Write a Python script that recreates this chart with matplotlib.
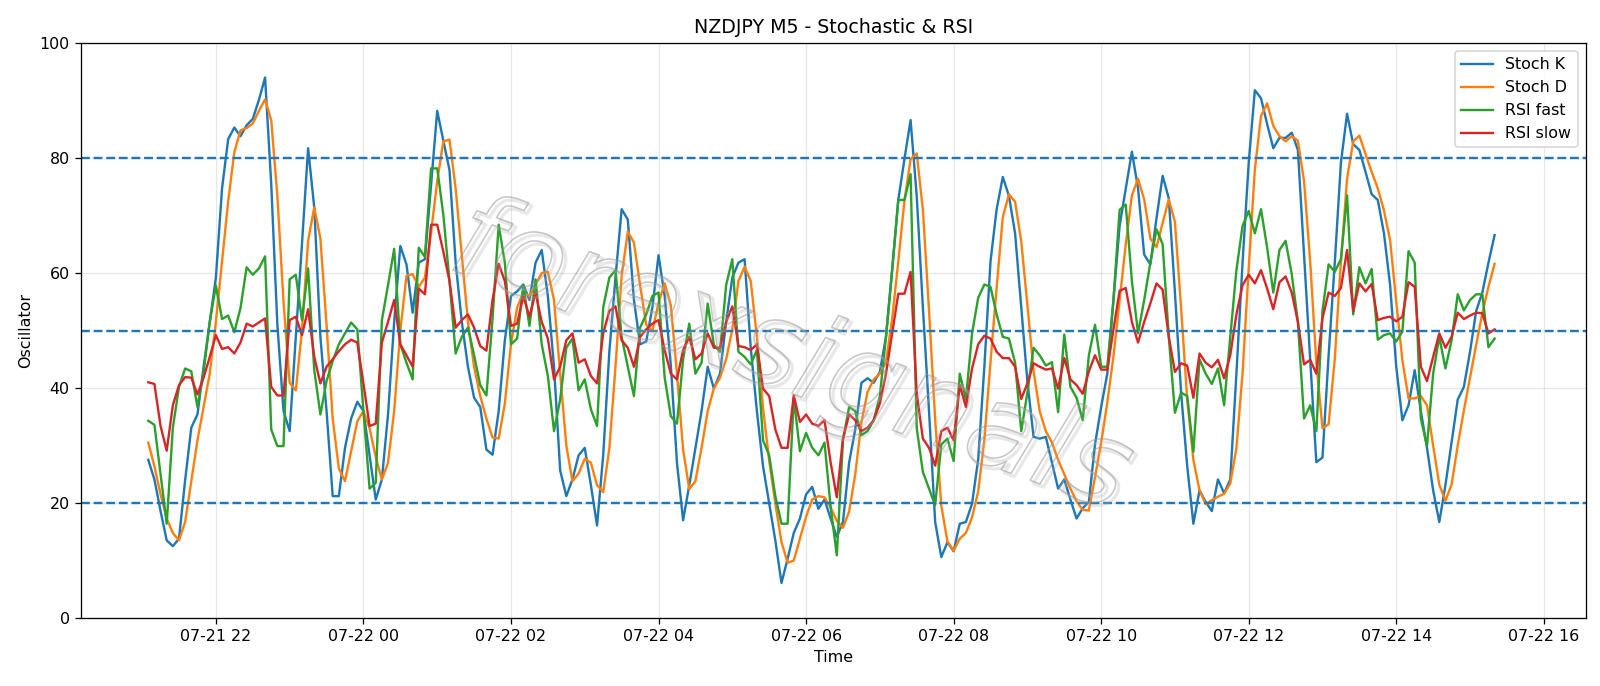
import matplotlib
matplotlib.use('Agg')
import matplotlib.pyplot as plt
import matplotlib.dates as mdates
import matplotlib.patheffects as pe
import pandas as pd

start_time = '2025-07-21 21:05'
n_points = 220

stoch_k = [27.5, 24.1, 18.6, 13.5, 12.5, 13.8, 24, 33.1, 35.4, 43.7,
           51.5, 59.2, 74.7, 83.3, 85.3, 83.8, 85.7, 86.8, 90.1, 94.0,
           75.5, 51, 36, 32.5, 48.9, 65, 81.7, 71.4, 48.9, 36,
           21.2, 21.2, 29.6, 34.7, 37.6, 36, 28.3, 20.6, 24.1, 35.4,
           51.5, 64.7, 61.5, 53.1, 61.8, 62.4, 75.3, 88.2, 83, 77.9,
           61.8, 51.5, 43.7, 38.3, 36.7, 29.3, 28.4, 36, 48.3, 56,
           56.8, 58, 55.3, 61.8, 64, 56, 43.7, 25.7, 21.2, 24.1,
           28.3, 29.6, 23.1, 16.1, 28.3, 46.3, 59.2, 71.1, 69.3, 55.3,
           47.6, 48.1, 54, 63.1, 56, 44, 27, 17, 23.1, 29.6,
           36, 43.7, 39.9, 42.5, 51.5, 59.2, 61.8, 62.4, 47, 36,
           26.4, 19.9, 13.5, 6.1, 10.3, 14.8, 17.3, 21.5, 22.8, 19,
           20.6, 17.3, 14.1, 16.7, 27, 32.8, 40.9, 41.7, 40.9, 42.8,
           48.9, 60.5, 72.7, 79.8, 86.6, 73.4, 54, 36, 16.7, 10.6,
           13.2, 11.6, 16.4, 16.7, 19.9, 27.6, 43.7, 62, 71.1, 76.7,
           73.4, 66.9, 54, 41.2, 31.5, 31.2, 31.5, 27, 22.5, 24.1,
           20.6, 17.3, 19.1, 20.2, 30.2, 36.7, 42.5, 55.3, 68.2, 74.7,
           81.1, 74.7, 63.2, 61.5, 69.5, 76.9, 73, 56.6, 39.2, 26.4,
           16.4, 22.2, 20.2, 18.6, 24.1, 21.7, 24.1, 42.5, 61.8, 79.2,
           91.8, 90.4, 85.9, 81.7, 83.5, 83.5, 84.4, 81.4, 63.1, 45,
           27.1, 27.9, 45.7, 61.8, 79.2, 87.7, 82.4, 81.4, 77.6, 73.7,
           72.7, 66.9, 57.9, 43.7, 34.4, 37, 43.1, 36, 29.6, 22.2,
           16.7, 23.1, 30.5, 38, 40.2, 46.3, 53.4, 56.6, 61.8, 66.6]

stoch_d = [30.5, 26.4, 21.5, 17.3, 14.8, 13.5, 16.7, 23.8, 30.9, 36.7,
           42.5, 51.5, 62, 72.5, 81, 84.8, 85.2, 86, 88.2, 90.2,
           86.6, 73.4, 55, 40.9, 39.6, 50, 65.6, 71.4, 66, 51,
           34.7, 26, 23.8, 29, 34.2, 36, 33, 28, 24.1, 27,
           36, 50, 59.5, 59.8, 57.6, 59.2, 67, 76, 82.9, 83.2,
           74.7, 63, 51.5, 43.7, 38.6, 34.7, 31.4, 31.2, 37.3, 47.6,
           54, 56.6, 56, 58, 60, 60.2, 55.3, 42.5, 30, 23.8,
           25.1, 27.7, 27, 23.1, 21.9, 29.5, 43.7, 59.5, 67.2, 65.3,
           57.9, 51, 49.9, 54.8, 58.2, 54.4, 42.5, 29.3, 22.4, 23.8,
           29.6, 36, 39.9, 41.8, 45, 50.2, 58.6, 61.1, 58.6, 48.9,
           36.5, 27.4, 19.9, 13.2, 9.6, 10, 13.8, 17.6, 20.6, 21.2,
           21, 19.2, 16.9, 15.7, 18.5, 25, 34, 39.3, 41.5, 42.5,
           44.5, 52, 62, 72.5, 79.8, 80.8, 71, 53.5, 34.5, 19.5,
           13.3, 11.7, 13.8, 14.8, 17.5, 22, 31, 44.5, 57.5, 69.7,
           73.7, 72.4, 65.5, 54.5, 43, 36, 32.5, 30.5, 27.5, 25,
           22.5, 20.3, 18.8, 18.7, 24.5, 30.5, 37.5, 45.5, 55.3, 65,
           73.5, 76.4, 72.8, 66, 64.5, 68.7, 72.8, 68.9, 54, 38,
           27.5, 22.2, 19.8, 20.5, 21.1, 21.6, 23.4, 29.5, 42.6, 60.8,
           78, 87.3, 89.5, 85.6, 83.8, 82.9, 83.8, 83, 76, 62,
           44.4, 33, 33.7, 45, 62, 76.4, 82.9, 83.9, 80.7, 77.6,
           74.7, 70.9, 65.7, 55, 44.8, 38.2, 38.2, 38.6, 37, 30,
           23.2, 20.4, 23.2, 30, 36.1, 41.8, 47.5, 53, 57.6, 61.6]

rsi_fast = [34.3, 33.6, 25, 16.4, 33.1, 40.2, 43.4, 42.9, 36.7, 42.8,
            51.5, 57.8, 52, 52.6, 49.7, 53.9, 61, 59.7, 60.8, 62.9,
            32.8, 29.9, 29.9, 58.9, 59.7, 51.8, 60.8, 43.1, 35.4, 41.2,
            44.7, 47.6, 49.5, 51.4, 50.2, 36, 22.5, 23.5, 51.8, 57.9,
            64.2, 47.6, 44.4, 41.5, 64.4, 62.8, 78.2, 78.2, 70.1, 58.6,
            46, 48.9, 50.5, 45.7, 40.5, 38.7, 52, 68.4, 61.8, 47.6,
            48.6, 57.9, 50.8, 58.9, 47.6, 42.1, 32.5, 38, 47, 48.6,
            39.6, 41.5, 36.3, 33.4, 54, 59.2, 60.5, 48.9, 43.7, 38.6,
            50.5, 52.8, 56, 56.6, 41.8, 35.1, 33.8, 45, 51.2, 42.5,
            44.4, 54.7, 47.5, 46.3, 57.9, 62.4, 46.3, 45.4, 44.1, 46.6,
            30.9, 28.3, 21.2, 16.4, 16.4, 38.3, 29, 32.2, 29.6, 28.3,
            30.5, 19.3, 10.9, 30.9, 36.7, 36, 31.8, 32.5, 34.4, 38.6,
            48.9, 60.5, 72.7, 72.7, 77.2, 33, 25.4, 22.5, 19.6, 30.2,
            31.2, 27.3, 42.5, 38, 49.5, 55.7, 58, 57.6, 52.8, 48.9,
            48.6, 44.4, 32.5, 39.2, 47, 45.7, 43.9, 44.5, 35.8, 49.3,
            40.2, 38.3, 34.4, 45.7, 51, 43.7, 43.7, 55.3, 71, 71.9,
            58.6, 49.5, 55.3, 61.8, 67.6, 65, 48.9, 35.7, 39.2, 38.6,
            28.9, 45, 42.5, 40.7, 43.4, 37, 48.9, 60.5, 68.2, 70.8,
            66.9, 71.1, 64.4, 56.6, 64, 65.6, 59.8, 51.5, 34.7, 37,
            32.5, 53.4, 61.5, 60.2, 62.4, 73.5, 52.8, 61, 58.2, 60.7,
            48.4, 49.2, 49.5, 48.1, 49.8, 63.8, 61.8, 34.7, 29.9, 42.5,
            48.9, 43.4, 48.3, 56.3, 53.5, 55.3, 56.3, 56.3, 47.1, 48.6]

rsi_slow = [41.0, 40.7, 33.4, 29.1, 37, 40.5, 41.9, 41.8, 38.9, 41.8,
            45.4, 49.2, 46.8, 47.1, 46, 47.9, 51.2, 50.7, 51.4, 52.1,
            40.2, 38.7, 38.7, 51.8, 52.4, 49.2, 53.7, 45.4, 40.8, 43.7,
            45, 46.4, 47.6, 48.4, 47.9, 40.8, 33.4, 33.8, 47.9, 51.5,
            55.3, 47.6, 45.7, 43.7, 57.3, 56.3, 68.4, 68.4, 63.7, 58.6,
            50.5, 51.8, 52.8, 50.5, 47.3, 46.5, 55.3, 61.6, 58.6, 50.8,
            51.2, 56, 52.4, 56.6, 51.5, 48.6, 41.5, 43.7, 48.3, 49.5,
            44.4, 45, 42.1, 40.8, 49.5, 53.4, 54.2, 48.3, 47, 43.7,
            48.9, 50.2, 51.2, 51.8, 46.6, 42.5, 41.5, 46.6, 48.9, 45,
            46, 49.5, 47, 47, 51.5, 54.2, 47.3, 47.1, 46.6, 47.6,
            39.9, 38.6, 32.8, 29.6, 29.6, 38.7, 34.1, 35.4, 33.8, 33.4,
            34.4, 27, 21, 31.2, 35.4, 34.4, 32.5, 33.1, 34.4, 37.3,
            42.5, 49.5, 56.4, 56.4, 60.2, 39, 31.2, 29.6, 26.5, 32.5,
            33.1, 30.9, 40.5, 36.7, 43.4, 47.6, 49.1, 48.6, 46.3, 45.2,
            45.2, 43.7, 38.1, 40.8, 44.3, 43.7, 43.2, 43.4, 39.9, 45.2,
            41.5, 40.5, 39, 42.9, 45.7, 43.2, 43.2, 50.2, 56.9, 57.4,
            51.5, 47.9, 51.5, 54.7, 58.2, 57.1, 48.9, 42.8, 44.3, 43.9,
            38.3, 46, 44.4, 43.6, 44.9, 41.7, 45.7, 52.8, 57.9, 59.7,
            58.2, 60.5, 57.3, 53.7, 58.4, 59.4, 56.6, 51.5, 44.1, 44.9,
            42.5, 52.1, 56.6, 56, 57.4, 64, 53.4, 58.2, 56.8, 58.1,
            51.8, 52.2, 52.4, 51.6, 52.4, 58.4, 57.6, 43.7, 41.2, 45.4,
            49.5, 47, 48.9, 53.1, 52, 52.6, 53.1, 53, 49.5, 50.2]

series_labels = ['Stoch K', 'Stoch D', 'RSI fast', 'RSI slow']
levels = [80, 50, 20]
y_ticks = [0, 20, 40, 60, 80, 100]

times = pd.date_range(start_time, periods=n_points, freq='5min')

fig = plt.figure(figsize=(14, 6.0025), dpi=1600 / 14)
ax = fig.add_axes([0.0504, 0.0991, 0.9406, 0.8382])

for vals, lab in zip([stoch_k, stoch_d, rsi_fast, rsi_slow], series_labels):
    ax.plot(times, vals, label=lab, linewidth=1.5)

for lv in levels:
    ax.axhline(lv, linestyle='--', color='C0', linewidth=1.5)

ax.grid(True, alpha=0.3)
ax.set_ylim(0, 100)
ax.set_yticks(y_ticks)
ax.set_xlim(pd.Timestamp('2025-07-21 20:10'), pd.Timestamp('2025-07-22 16:34'))
ax.xaxis.set_major_locator(mdates.HourLocator(byhour=range(0, 24, 2)))
ax.xaxis.set_major_formatter(mdates.DateFormatter('%m-%d %H'))
ax.set_title('NZDJPY M5 - Stochastic & RSI')
ax.set_xlabel('Time')
ax.set_ylabel('Oscillator')
ax.legend(loc='upper right')

ax.text(0.472, 0.452, 'forexsignals', transform=ax.transAxes, fontsize=74,
        style='italic', rotation=-20, ha='center', va='center',
        color=(1, 1, 1, 0), zorder=5,
        path_effects=[pe.Stroke(linewidth=2.0, foreground=(0.7, 0.7, 0.7, 0.3), offset=(2, -2)),
                      pe.Stroke(linewidth=1.0, foreground=(0.6, 0.6, 0.6, 0.55))])

fig.savefig('out.png', dpi=1600 / 14)
